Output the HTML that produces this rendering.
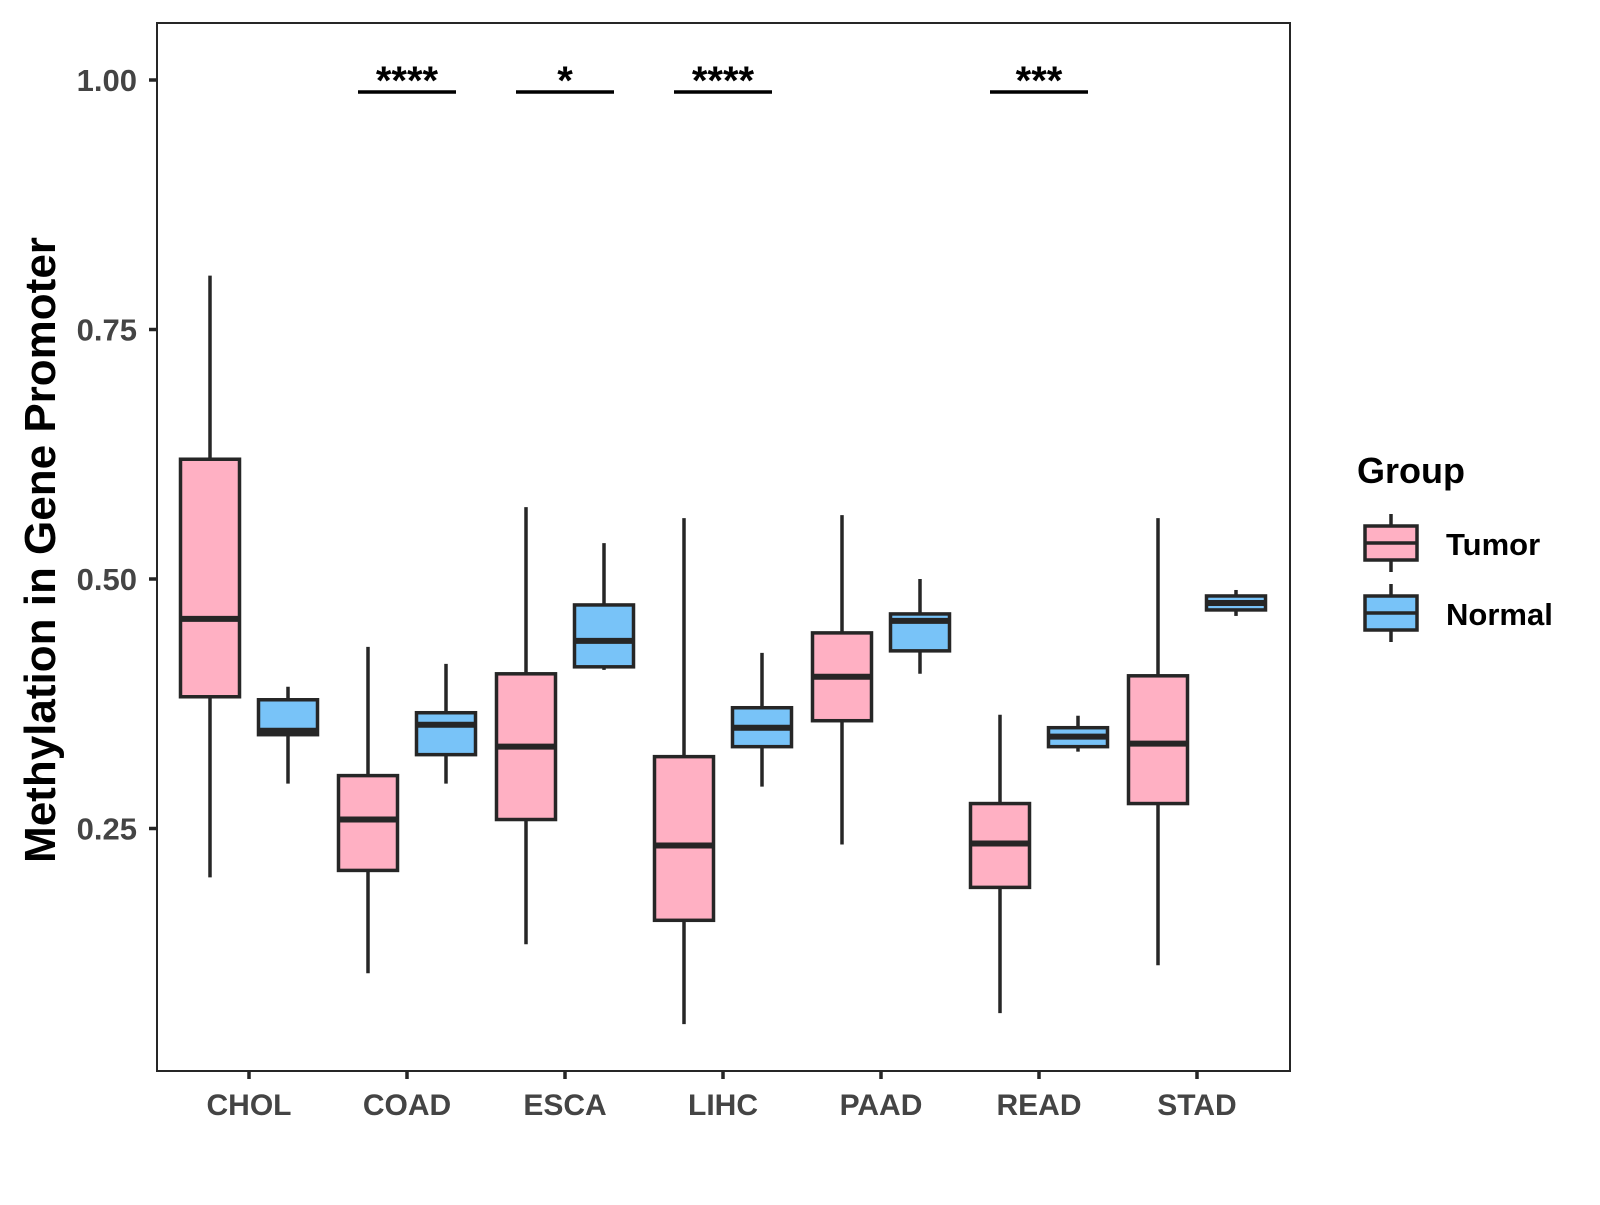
<!DOCTYPE html>
<html><head><meta charset="utf-8"><style>
html,body{margin:0;padding:0;background:#fff;}
svg text{font-family:"Liberation Sans",Arial,sans-serif;font-weight:bold;}
</style></head><body>
<svg id="chart" width="1600" height="1200" viewBox="0 0 1600 1200" xmlns="http://www.w3.org/2000/svg">
<rect x="157" y="23" width="1133" height="1048" fill="#fff" stroke="#262626" stroke-width="2"/>
<g id="marks"></g>
<text x="55" y="550" font-size="44" fill="#000" text-anchor="middle" transform="rotate(-90 55 550)">Methylation in Gene Promoter</text>
<g>
<text x="1357" y="483" font-size="36" fill="#000">Group</text>
<g>
<line x1="1391" y1="514" x2="1391" y2="572" stroke="#262626" stroke-width="3.5"/>
<rect x="1365" y="526" width="52" height="34" fill="#FFB0C3" stroke="#262626" stroke-width="3.5"/>
<line x1="1365" y1="543" x2="1417" y2="543" stroke="#262626" stroke-width="3.5"/>
<text x="1446" y="555" font-size="31" fill="#000">Tumor</text>
</g>
<g>
<line x1="1391" y1="584" x2="1391" y2="642" stroke="#262626" stroke-width="3.5"/>
<rect x="1365" y="596" width="52" height="34" fill="#78C3F8" stroke="#262626" stroke-width="3.5"/>
<line x1="1365" y1="613" x2="1417" y2="613" stroke="#262626" stroke-width="3.5"/>
<text x="1446" y="625" font-size="31" fill="#000">Normal</text>
</g>
</g>
</svg>
<script>
const categories=["CHOL","COAD","ESCA","LIHC","PAAD","READ","STAD"];
// [low, q1, median, q3, high]
const tumorStats=[[0.201,0.382,0.460,0.620,0.804],[0.105,0.208,0.259,0.303,0.432],[0.134,0.259,0.332,0.405,0.572],[0.054,0.158,0.233,0.322,0.561],[0.234,0.358,0.402,0.446,0.564],[0.065,0.191,0.235,0.275,0.364],[0.113,0.275,0.335,0.403,0.561]];
const normalStats=[[0.295,0.344,0.348,0.379,0.392],[0.295,0.324,0.354,0.366,0.415],[0.409,0.412,0.438,0.474,0.536],[0.292,0.332,0.351,0.371,0.426],[0.405,0.428,0.458,0.465,0.500],[0.327,0.332,0.342,0.351,0.363],[0.463,0.469,0.476,0.483,0.489]];
const yTicks=[0.25,0.50,0.75,1.00];
const yTickLabels=["0.25","0.50","0.75","1.00"];
const sigLabels=["","****","*","****","","***",""];
const sigLevel=0.988;
const NS="http://www.w3.org/2000/svg";
const g=document.getElementById('marks');
function yS(v){return 80+(1-v)*998;}
function xS(i){return 249+i*158;}
function mk(tag,attrs,parent){const e=document.createElementNS(NS,tag);for(const k in attrs)e.setAttribute(k,attrs[k]);(parent||g).appendChild(e);return e;}
const stroke="#262626";
yTicks.forEach((v,i)=>{
  const t=mk('line',{x1:149,x2:157,y1:yS(v),y2:yS(v),stroke:stroke,'stroke-width':3.5});
  
  
  const l=mk('text',{x:137,y:yS(v)+11,'font-size':31,fill:'#444','text-anchor':'end'});
  
  
  l.textContent=yTickLabels[i];
});
categories.forEach((c,i)=>{
  const cx=xS(i);
  const t=mk('line',{x1:cx,x2:cx,y1:1071,y2:1079,stroke:stroke,'stroke-width':3.5});
  
  
  const l=mk('text',{x:cx,y:1115,'font-size':30,fill:'#444','text-anchor':'middle'});
  
  
  l.textContent=c;
  [[tumorStats[i],-39,'#FFB0C3','tumor'],[normalStats[i],39,'#78C3F8','normal']].forEach(([s,off,fill,nm])=>{
    const bx=cx+off, w=59;
    const grp=mk('g',{});
    
    
    mk('line',{x1:bx,x2:bx,y1:yS(s[4]),y2:yS(s[0]),stroke:stroke,'stroke-width':3.5},grp);
    mk('rect',{x:bx-w/2,y:yS(s[3]),width:w,height:yS(s[1])-yS(s[3]),fill:fill,stroke:stroke,'stroke-width':3.5},grp);
    mk('line',{x1:bx-w/2,x2:bx+w/2,y1:yS(s[2]),y2:yS(s[2]),stroke:stroke,'stroke-width':6},grp);
  });
  if(sigLabels[i]){
    const b=mk('line',{x1:cx-49,x2:cx+49,y1:yS(sigLevel),y2:yS(sigLevel),stroke:'#000','stroke-width':3.5});
    
    
    const st=mk('text',{x:cx,y:yS(sigLevel)+2,'font-size':40,fill:'#000','text-anchor':'middle'});
    
    
    st.textContent=sigLabels[i];
  }
});
</script>
</body></html>
